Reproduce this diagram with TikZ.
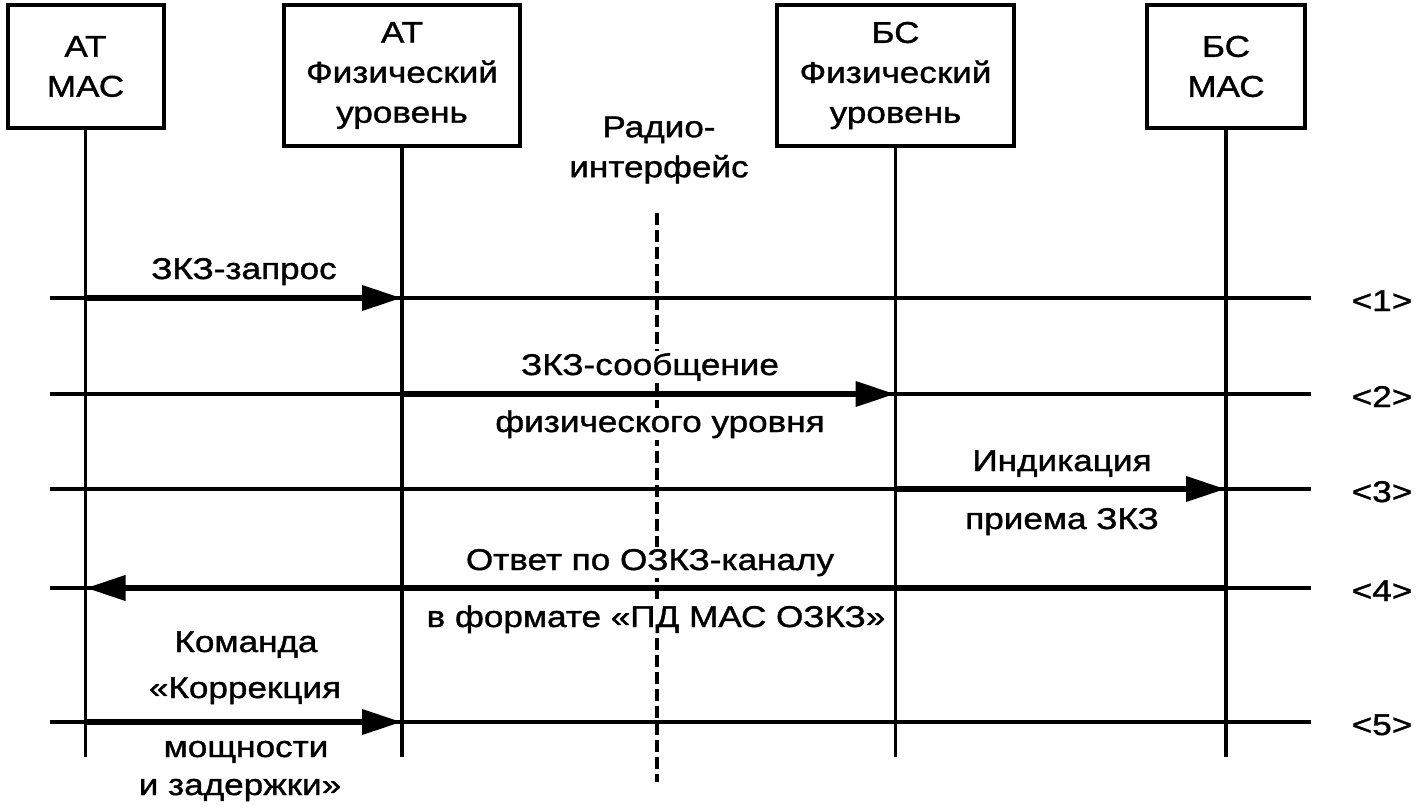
\documentclass[tikz,border=0pt]{standalone}
\usepackage{fontspec}
\setmainfont{Liberation Sans}[FakeStretch=1.17, FakeBold=1.2]
\usetikzlibrary{arrows.meta,positioning}

\begin{document}
\begin{tikzpicture}[x=0.5pt, y=-0.5pt,
  font=\fontsize{15}{20}\selectfont,
  box/.style={draw, line width=2pt, minimum height=61.5pt, align=center, inner sep=0pt},
  life/.style={line width=1.8pt},
  row/.style={line width=1.8pt},
  radio/.style={line width=1.8pt, dash pattern=on 6pt off 2.5pt},
  arr/.style={-{Triangle[length=20pt, width=12pt]}, line width=3.4pt},
  lbl/.style={anchor=base, fill=white, inner sep=1pt},
  num/.style={anchor=base}
]
  \path[use as bounding box, fill=white] (0,0) rectangle (1420,809);

  % participants
  \node[box, minimum width=78pt] (atmac) at (85.5,66.5) {АТ\\МАС};
  \node[box, minimum width=118pt, minimum height=70.5pt] (atphy) at (402,75.5) {АТ\\Физический\\уровень};
  \node[box, minimum width=118.5pt, minimum height=70.5pt] (bsphy) at (895.5,75.5) {БС\\Физический\\уровень};
  \node[box, minimum width=79pt] (bsmac) at (1226,66.5) {БС\\МАС};

  % radio interface
  \node[align=center] (radio) at (659,150) {Радио-\\интерфейс};
  \coordinate (rtop) at (657,213);
  \coordinate (rbot) at (657,782);
  \draw[radio] (rtop) -- (rbot);

  % message labels
  \node[lbl] (m1) at (244,279) {ЗКЗ-запрос};
  \node[lbl] (m2a) at (650,375) {ЗКЗ-сообщение};
  \node[lbl] (m2b) at (660,432) {физического уровня};
  \node[lbl] (m3a) at (1062,471) {Индикация};
  \node[lbl] (m3b) at (1062,529) {приема ЗКЗ};
  \node[lbl] (m4a) at (650,570) {Ответ по ОЗКЗ-каналу};
  \node[lbl] (m4b) at (656,627) {в формате «ПД МАС ОЗКЗ»};
  \node[lbl] (m5a) at (246,652) {Команда};
  \node[lbl] (m5b) at (245,698) {«Коррекция};
  \node[lbl] (m5c) at (246,757) {мощности};
  \node[lbl] (m5d) at (240,795) {и задержки»};

  % lifelines
  \coordinate (bot) at (0,757);
  \draw[life] (atmac) -- (atmac |- bot);
  \draw[life] (atphy) -- (atphy |- bot);
  \draw[life] (bsphy) -- (bsphy |- bot);
  \draw[life] (bsmac) -- (bsmac |- bot);

  % steps
  \coordinate (w1) at (50,298); \coordinate (e1) at (1311,298);
  \coordinate (w2) at (50,394); \coordinate (e2) at (1311,394);
  \coordinate (w3) at (50,489); \coordinate (e3) at (1311,489);
  \coordinate (w4) at (50,588); \coordinate (e4) at (1311,588);
  \coordinate (w5) at (50,722); \coordinate (e5) at (1311,722);
  \draw[row] (w1) -- (e1);
  \draw[row] (w2) -- (e2);
  \draw[row] (w3) -- (e3);
  \draw[row] (w4) -- (e4);
  \draw[row] (w5) -- (e5);
  \node[num] (n1) at (1382,311) {<1>};
  \node[num] (n2) at (1382,407) {<2>};
  \node[num] (n3) at (1382,502) {<3>};
  \node[num] (n4) at (1382,601) {<4>};
  \node[num] (n5) at (1382,735) {<5>};

  % messages
  \draw[arr] (atmac |- w1) -- (atphy |- w1);
  \draw[arr] (atphy |- w2) -- (bsphy |- w2);
  \draw[arr] (bsphy |- w3) -- (bsmac |- w3);
  \draw[arr] (bsmac |- w4) -- (atmac |- w4);
  \draw[arr] (atmac |- w5) -- (atphy |- w5);
\end{tikzpicture}
\end{document}
